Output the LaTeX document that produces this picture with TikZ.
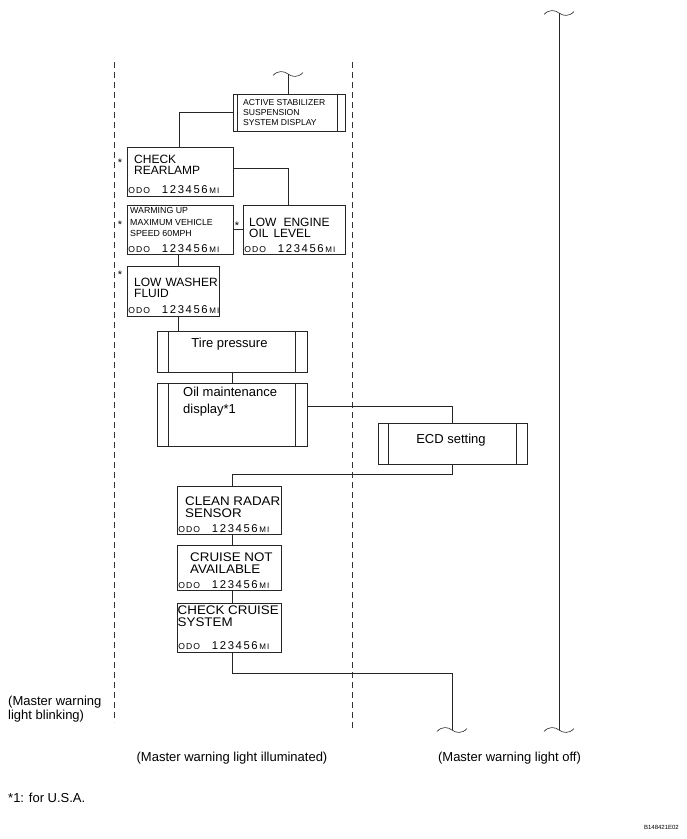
\documentclass[tikz,border=0pt]{standalone}
\usepackage{fontspec}
\setmainfont{Liberation Sans}
\newfontfamily\widefont[FakeStretch=1.07]{Liberation Sans}
\usetikzlibrary{calc}
\newcommand\odoline{{\fontsize{8.6}{8}\selectfont O\kern1pt D\kern1pt O}\hspace{12pt}{\fontsize{11.3}{11}\selectfont 1\kern1.6pt 2\kern1.6pt 3\kern1.6pt 4\kern1.6pt 5\kern1.6pt 6}\kern1.8pt{\fontsize{8}{8}\selectfont M\kern1pt I}}
\newcommand\bigtxt{\fontsize{12}{11}\selectfont}
\newcommand\widetxt{\widefont\fontsize{12.5}{12}\selectfont}
\newcommand\smalltxt{\fontsize{8.6}{10}\selectfont}
\newcommand\lbltxt{\fontsize{13}{13.5}\selectfont}
\newcommand\wavy[1]{\draw[wire] ($(#1)+(-15,1.5)$) .. controls ($(#1)+(-10,-4)$) and ($(#1)+(-4,-3)$) .. (#1) .. controls ($(#1)+(4,3)$) and ($(#1)+(10,4)$) .. ($(#1)+(15,-1.5)$);}
\begin{document}
\begin{tikzpicture}[x=1pt,y=-1pt,
  wire/.style={line width=0.6pt, draw=black!85},
  dashline/.style={line width=0.7pt, draw=black!80, dash pattern=on 6pt off 4pt},
  box/.style={draw=black!85, line width=0.6pt, inner sep=0pt, fill=white},
  txt/.style={anchor=north west, inner sep=0pt, align=left},
  odo/.style={anchor=base west, inner sep=0pt},
  star/.style={anchor=base, inner sep=0pt, font=\fontsize{11}{11}\selectfont},
  lbl/.style={inner sep=0pt, font=\lbltxt}]
\useasboundingbox (0,0) rectangle (687,839);

% dashed separators
\coordinate (dl1) at (114,62); \coordinate (dl2) at (114,722);
\coordinate (dm1) at (352,62); \coordinate (dm2) at (352,728);
\draw[dashline] (dl1) -- (dl2);
\draw[dashline] (dm1) -- (dm2);

% wavy ends
\coordinate (wtop) at (288,74);
\coordinate (wtr) at (559,13);
\coordinate (wbr) at (559,730);
\coordinate (wbot) at (452,730);

% boxes
\node[box, minimum width=112pt, minimum height=37pt] (active) at (289,112.5) {};
\node[box, minimum width=106pt, minimum height=49pt] (rear) at (180,171.5) {};
\node[box, minimum width=106pt, minimum height=49pt] (warm) at (180,229.5) {};
\node[box, minimum width=102pt, minimum height=49pt] (lowoil) at (294,229.5) {};
\node[box, minimum width=92pt, minimum height=50pt] (washer) at (173,291) {};
\node[box, minimum width=150pt, minimum height=41pt] (tire) at (232,351.5) {};
\node[box, minimum width=150pt, minimum height=63pt] (oil) at (232,414.5) {};
\node[box, minimum width=149pt, minimum height=41pt] (ecd) at (452.5,443.5) {};
\node[box, minimum width=104pt, minimum height=48pt] (clean) at (229,510) {};
\node[box, minimum width=104pt, minimum height=45pt] (cruise) at (229,567.5) {};
\node[box, minimum width=104pt, minimum height=49pt] (ccr) at (229,627.5) {};

% inner bars
\draw[wire] ([xshift=5pt]active.north west) -- ([xshift=5pt]active.south west);
\draw[wire] ([xshift=-8pt]active.north east) -- ([xshift=-8pt]active.south east);
\draw[wire] ([xshift=12pt]tire.north west) -- ([xshift=12pt]tire.south west);
\draw[wire] ([xshift=-12pt]tire.north east) -- ([xshift=-12pt]tire.south east);
\draw[wire] ([xshift=12pt]oil.north west) -- ([xshift=12pt]oil.south west);
\draw[wire] ([xshift=-12pt]oil.north east) -- ([xshift=-12pt]oil.south east);
\draw[wire] ([xshift=11pt]ecd.north west) -- ([xshift=11pt]ecd.south west);
\draw[wire] ([xshift=-11pt]ecd.north east) -- ([xshift=-11pt]ecd.south east);

% box texts
\node[txt, font=\smalltxt] (activeT) at (243,99) {ACTIVE STABILIZER\\SUSPENSION\\SYSTEM DISPLAY};
\node[txt, font=\bigtxt] (rearT) at (134,155) {CHECK\\REARLAMP};
\node[txt, font=\fontsize{8.8}{11.5}\selectfont] (warmT) at (130,207.5) {WARMING UP\\MAXIMUM VEHICLE\\SPEED 60MPH};
\node[txt, font=\bigtxt] (lowoilT) at (249,217.5) {LOW\hspace{7pt}ENGINE\\OIL\hspace{5pt}LEVEL};
\node[txt, font=\bigtxt] (washerT) at (134,277.5) {LOW\hspace{4pt}WASHER\\FLUID};
\node[inner sep=0pt, anchor=north, font=\fontsize{13}{13}\selectfont] (tireT) at (229.5,337.5) {Tire pressure};
\node[txt, font=\fontsize{13}{17.5}\selectfont] (oilT) at (183,386.5) {Oil maintenance\\display*1};
\node[inner sep=0pt, anchor=north, font=\fontsize{13}{13}\selectfont] (ecdT) at (451,433.5) {ECD setting};
\node[txt, font=\widetxt] (cleanT) at (185,497) {CLEAN RADAR\\SENSOR};
\node[txt, font=\widetxt] (cruiseT) at (190,553) {CRUISE NOT\\AVAILABLE};
\node[txt, font=\widetxt] (ccrT) at (177.5,606) {CHECK CRUISE\\SYSTEM};

% ODO lines
\node[odo] (rearO) at ([shift={(1.5pt,3pt)}]rear.south west) {\odoline};
\node[odo] (warmO) at ([shift={(1.5pt,2pt)}]warm.south west) {\odoline};
\node[odo] (lowoilO) at ([shift={(1.5pt,2pt)}]lowoil.south west) {\odoline};
\node[odo] (washerO) at ([shift={(1.5pt,3pt)}]washer.south west) {\odoline};
\node[odo] (cleanO) at ([shift={(1.5pt,2pt)}]clean.south west) {\odoline};
\node[odo] (cruiseO) at ([shift={(1.5pt,2pt)}]cruise.south west) {\odoline};
\node[odo] (ccrO) at ([shift={(1.5pt,3pt)}]ccr.south west) {\odoline};

% stars
\node[star] (s1) at (120,166) {*};
\node[star] (s2) at (120,228) {*};
\node[star] (s3) at (237,229) {*};
\node[star] (s4) at (120,278) {*};

% connectors
\wavy{wtop}
\draw[wire] (wtop) -- (wtop |- active.north);
\draw[wire] (active.west) -| ([xshift=-1pt]rear.north);
\draw[wire] ([yshift=3.5pt]rear.east) -| ([xshift=-6pt]lowoil.north);
\draw[wire] (warm.east) -- (lowoil.west);
\draw[wire] ([xshift=-2pt]warm.south) -- ([xshift=-2pt]warm.south |- washer.north);
\draw[wire] ([xshift=5pt]washer.south) -- ([xshift=5pt]washer.south |- tire.north);
\draw[wire] (tire.south) -- (oil.north);
\draw[wire] ([yshift=8.5pt]oil.east) -| (ecd.north);
\draw[wire] (ecd.south) -- ++(0,10) -| ([xshift=3pt]clean.north);
\draw[wire] ([xshift=3pt]clean.south) -- ([xshift=3pt]cruise.north);
\draw[wire] ([xshift=3pt]cruise.south) -- ([xshift=3pt]ccr.north);
\draw[wire] ([xshift=3pt]ccr.south) -- ++(0,21) -| (wbot);
\wavy{wbot}
\wavy{wtr}
\draw[wire] (wtr) -- (wbr);
\wavy{wbr}

% labels
\node[lbl, anchor=north west, align=left] (blink) at (8,696) {(Master warning\\light blinking)};
\node[lbl, anchor=base] (illum) at (232,761.5) {(Master warning light illuminated)};
\node[lbl, anchor=base] (off) at (509.5,761.5) {(Master warning light off)};
\node[lbl, anchor=base west] (usa) at (8,802) {*1: for U.S.A.};
\node[inner sep=0pt, anchor=base east, font=\fontsize{6}{6}\selectfont] (code) at (679,829) {B148421E02};
\end{tikzpicture}
\end{document}
